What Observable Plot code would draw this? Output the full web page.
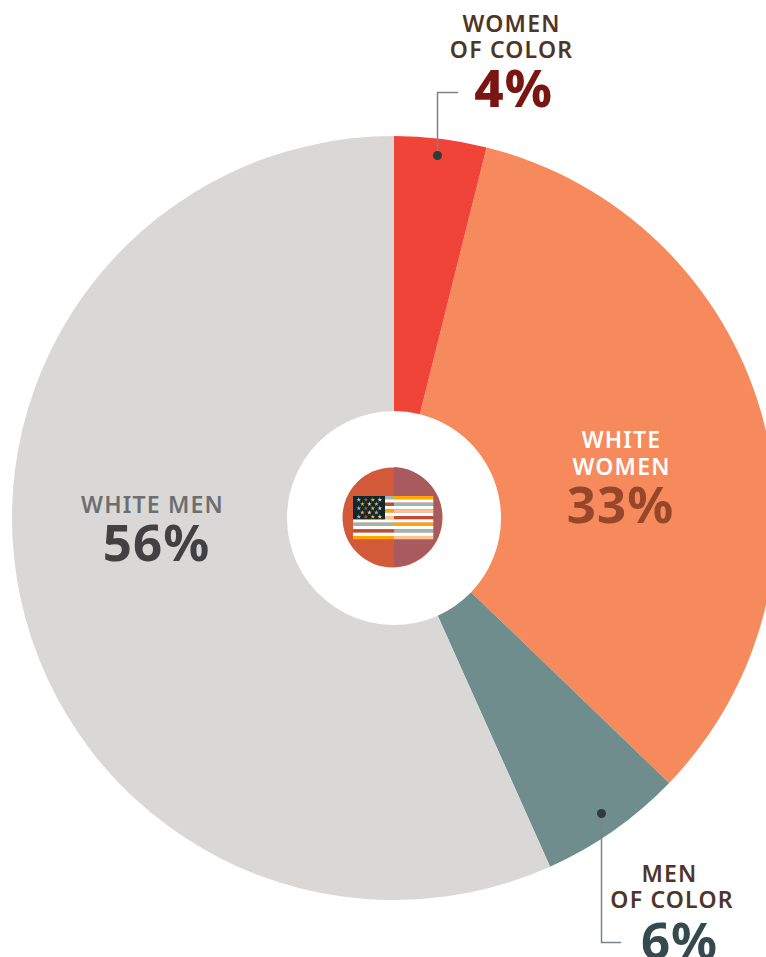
<!DOCTYPE html>
<html><head><meta charset="utf-8">
<script src="https://cdn.jsdelivr.net/npm/d3@7"></script>
<script src="https://cdn.jsdelivr.net/npm/@observablehq/plot@0.6"></script>
<style>
html,body{margin:0;padding:0;background:#fff;overflow:hidden}
svg{display:block}
.cap text{letter-spacing:1.2px}
.pct text{letter-spacing:1px}
</style></head><body>
<script>
// Data
const groups = ["Women of color","White women","Men of color","White men"];
const shares = [3.9,33.3,6.1,56.7];
const sliceColors = ["#f04438","#f78a5c","#6f8d8d","#d9d8d6"];
const shownPercent = ["4%","33%","6%","56%"];
const flagLeftStripes = ["#9cb8ae","#fff","#c0492f","#fff","#ffa600","#fff","#fbc48f","#fff","#9cb8ae","#fff","#c0492f","#fff","#ffa600"];
const flagRightStripes = ["#ffa600","#fff","#9cb8ae","#fff","#fbc48f","#fff","#c0492f","#fff","#ffa600","#fff","#9cb8ae","#fff","#fbc48f"];
const starColors = ["#9cb8ae","#c0492f","#ffa600","#fbc48f"];

const W = 766, H = 957, CX = 394, CY = 518, R = 382, R0 = 107;
const slices = groups.map((g,i)=>({g,v:shares[i]}));
const lit = (value)=>({value, scale:null});

const donut = (index, scales, values) => {
  const g = d3.create("svg:g");
  const arc = d3.arc().innerRadius(R0).outerRadius(R);
  for (const i of index) {
    g.append("path")
      .attr("transform",`translate(${CX},${CY})`)
      .attr("fill",values.fill[i])
      .attr("d",arc({startAngle:values.x1[i],endAngle:values.x2[i]}));
  }
  return g.node();
};

// flag: the y scale is an identity on the page, the x scale carries the pie angle
const FX0=353, FX1=433.3, FY0=496, FSH=(539.3-496)/13, FMID=394, CANX=385, CANY=519.3;
const stripeRows = (cols,x1,x2)=>cols.map((fill,i)=>({fill,x1,x2,y1:FY0+i*FSH,y2:FY0+(i+1)*FSH}));
const stripes = [...stripeRows(flagLeftStripes,FX0,FMID),...stripeRows(flagRightStripes,FMID,FX1)];
const stars = [];
for (let r=0;r<5;r++) {
  const n = r%2===0?4:3;
  for (let c=0;c<n;c++) stars.push({
    x: 358.3+(r%2?3.6:0)+c*7,
    y: 499.3+r*4.25,
    fill: starColors[(c+r*2)%4]
  });
}
const halfDisc = () => {
  const dx=2, r=50, h=Math.sqrt(r*r-dx*dx);
  return d3.create("svg:path").attr("fill","#a85a5f")
    .attr("d",`M${392+dx},${517-h}A${r},${r} 0 0 1 ${392+dx},${517+h}Z`).node();
};

const textMark = (txt,x,y,size,fill,cls,weight) => Plot.text([txt],{
  x:lit([x]),y:lit([y]),text:d=>d,fontSize:size,fill,fontWeight:weight,
  fontFamily:"'Noto Sans',sans-serif",lineAnchor:"bottom",textAnchor:"middle",className:cls
});
const leader = (xs,ys)=>Plot.line([0,1,2],{x:lit(xs),y:lit(ys),stroke:"#7c8387",strokeWidth:1.5,curve:"linear"});
const pin = (x,y)=>Plot.dot([0],{x:lit([x]),y:lit([y]),r:4.5,fill:"#2f3a3d",stroke:"none"});

const chart = Plot.plot({
  width:W,height:H,margin:0,
  style:{background:"transparent"},
  x:{domain:[0,100],range:[0,2*Math.PI],axis:null},
  y:{domain:[0,H],range:[0,H],axis:null},
  color:{domain:groups,range:sliceColors},
  marks:[
    Plot.barX(slices,{x:"v",fill:"g",order:null,render:donut}),
    Plot.dot([0],{x:lit([392]),y:lit([517]),r:50,fill:"#d35a38",stroke:"none"}),
    halfDisc,
    Plot.rect(stripes,{x1:lit(stripes.map(d=>d.x1)),x2:lit(stripes.map(d=>d.x2)),y1:"y1",y2:"y2",fill:d=>d.fill}),
    Plot.rect([0],{x1:lit([FX0]),x2:lit([CANX]),y1:()=>FY0,y2:()=>CANY,fill:"#10272e"}),
    Plot.dot(stars,{x:lit(stars.map(d=>d.x)),y:lit(stars.map(d=>d.y)),symbol:"star",r:1.5,fill:d=>d.fill,stroke:"none"}),
    leader([457,437,437],[92,92,155]),
    pin(437,155),
    leader([601,601,620],[813,942,942]),
    pin(601,813),
    textMark("WOMEN",511,31,23,"#4f3527","cap",600),
    textMark("OF COLOR",511,57,23,"#4f3527","cap",600),
    textMark(shownPercent[0],513,106,51,"#7a1512","pct",800),
    textMark("WHITE",621,447,23,"#fff","cap",600),
    textMark("WOMEN",621,474,23,"#fff","cap",600),
    textMark(shownPercent[1],620,522,51,"#96472a","pct",700),
    textMark("WHITE MEN",152,512,23,"#6d6e70","cap",600),
    textMark(shownPercent[3],156,560,51,"#414042","pct",700),
    textMark("MEN",669,881,23,"#4f3527","cap",600),
    textMark("OF COLOR",671.5,907,23,"#4f3527","cap",600),
    textMark(shownPercent[2],679,958,51,"#354a4f","pct",700)
  ]
});
document.body.append(chart);
</script></body></html>
